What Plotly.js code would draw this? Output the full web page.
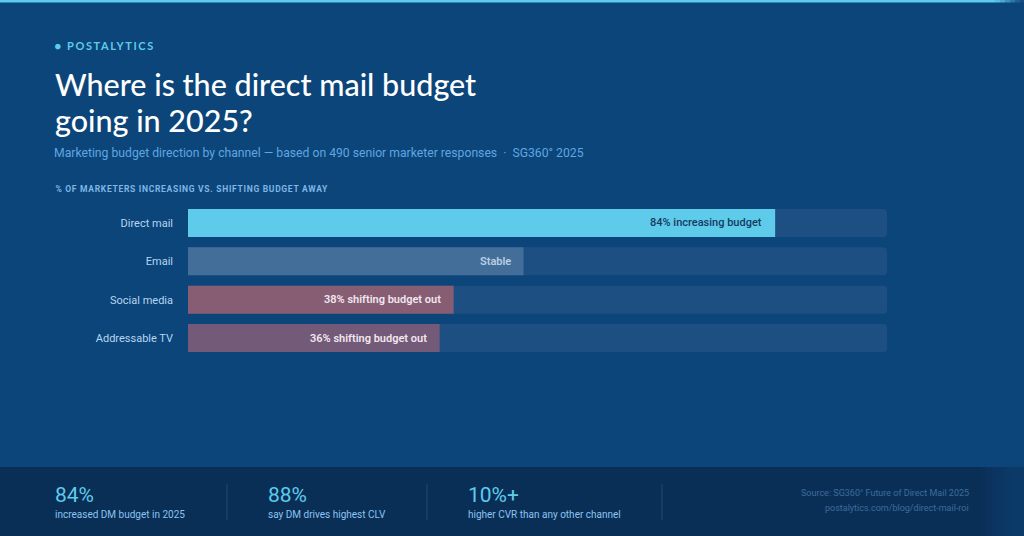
<!DOCTYPE html>
<html>
<head>
<meta charset="utf-8">
<script src="https://cdn.plot.ly/plotly-3.0.1.min.js"></script>
<style>
  html, body { margin: 0; padding: 0; background: #0c4579; }
  #chart { width: 1024px; height: 536px; }
</style>
</head>
<body>
<div id="chart"></div>
<script>
// ---- data ----
const channels = ["Direct mail", "Email", "Social media", "Addressable TV"];
const values = [84, 48, 38, 36];
const barLabels = ["84% increasing budget", "Stable", "38% shifting budget out", "36% shifting budget out"];
const trackMax = [100, 100, 100, 100];

const statValues = ["84%", "88%", "10%+"];
const statLabels = ["increased DM budget in 2025", "say DM drives highest CLV", "higher CVR than any other channel"];

// ---- styles ----
const W = 1024, H = 536;
const barColors = ["#5ecbeb", "#436e99", "#875d74", "#735a78"];
const labelColors = ["#163a5e", "#b9cfe4", "#f1e6ee", "#f1e6ee"];
const px = x => x / W;
const py = y => (H - y) / H;

const plotL = 188, plotR = 887, plotT = 203.8, plotB = 357.2;

const traces = [
  {
    type: "bar", orientation: "h",
    y: channels, x: trackMax,
    marker: { color: "#1e4f82", cornerradius: 4 },
    hoverinfo: "skip", showlegend: false
  },
  {
    type: "bar", orientation: "h",
    y: channels, x: values,
    marker: { color: barColors, cornerradius: 4 },
    hoverinfo: "skip", showlegend: false
  }
];

const annotations = [];
channels.forEach((c, i) => {
  annotations.push({
    xref: "x", yref: "y", x: values[i], y: c,
    text: barLabels[i], showarrow: false,
    xanchor: "right", yanchor: "middle", xshift: -11,
    font: { family: "Roboto", size: 11, color: labelColors[i], weight: i === 0 ? 500 : 600 }
  });
});

// header texts
annotations.push({
  xref: "paper", yref: "paper", x: px(53), y: py(45), xanchor: "left", yanchor: "middle", xshift: 10,
  text: "● POSTALYTICS", showarrow: false,
  font: { family: "Lato", size: 11, color: "#5ecbeb", weight: 700 }
});
annotations.push({
  xref: "paper", yref: "paper", x: px(53), y: py(84), xanchor: "left", yanchor: "middle",
  text: "Where is the direct mail budget", showarrow: false,
  font: { family: "Lato", size: 30.5, color: "#ffffff", weight: 500 }
});
annotations.push({
  xref: "paper", yref: "paper", x: px(53), y: py(120), xanchor: "left", yanchor: "middle",
  text: "going in 2025?", showarrow: false,
  font: { family: "Lato", size: 30.5, color: "#ffffff", weight: 500 }
});
annotations.push({
  xref: "paper", yref: "paper", x: px(52), y: py(153), xanchor: "left", yanchor: "middle",
  text: "Marketing budget direction by channel — based on 490 senior marketer responses  ·  SG360° 2025", showarrow: false,
  font: { family: "Roboto", size: 12.2, color: "#5fa6e2" }
});
annotations.push({
  xref: "paper", yref: "paper", x: px(54), y: py(189), xanchor: "left", yanchor: "middle", xshift: 17,
  text: "% OF MARKETERS INCREASING VS. SHIFTING BUDGET AWAY", showarrow: false,
  font: { family: "Roboto", size: 8.5, color: "#7fb6e6", weight: 700 }
});

// footer stats
const statX = [55, 268, 468];
statValues.forEach((v, i) => {
  annotations.push({
    xref: "paper", yref: "paper", x: px(statX[i] - 2), y: py(495), xanchor: "left", yanchor: "middle",
    text: v, showarrow: false,
    font: { family: "Roboto", size: 21, color: "#5ecbeb" }
  });
  annotations.push({
    xref: "paper", yref: "paper", x: px(statX[i] - 2), y: py(514), xanchor: "left", yanchor: "middle",
    text: statLabels[i], showarrow: false,
    font: { family: "Roboto", size: 10, color: "#8cc3ef" }
  });
});
annotations.push({
  xref: "paper", yref: "paper", x: px(971), y: py(493), xanchor: "right", yanchor: "middle",
  text: "Source: SG360° Future of Direct Mail 2025", showarrow: false,
  font: { family: "Roboto", size: 9, color: "#3e6b9c" }
});
annotations.push({
  xref: "paper", yref: "paper", x: px(971), y: py(508), xanchor: "right", yanchor: "middle",
  text: "postalytics.com/blog/direct-mail-roi", showarrow: false,
  font: { family: "Roboto", size: 9, color: "#3e6b9c" }
});

const shapes = [
  { type: "rect", xref: "paper", yref: "paper", x0: 0, x1: px(995), y0: py(0), y1: py(2.5), fillcolor: "#5ecbeb", line: { width: 0 }, layer: "below" },
  { type: "rect", xref: "paper", yref: "paper", x0: 0, x1: 1, y0: 0, y1: py(467), fillcolor: "#0a2f57", line: { width: 0 }, layer: "below" }
];
const fadeTop = ["#56bde2", "#4aa8d4", "#3c8fc0", "#2f76ab", "#215d95", "#164e86"];
const fadeFoot = ["#0a3059", "#0b325c", "#0b3460", "#0b3663", "#0c3866", "#0c3a68"];
for (let k = 0; k < 6; k++) {
  shapes.push({ type: "rect", xref: "paper", yref: "paper", x0: px(995 + k * 5), x1: k === 5 ? 1 : px(1000 + k * 5), y0: py(0), y1: py(2.5), fillcolor: fadeTop[k], line: { width: 0 }, layer: "below" });
  shapes.push({ type: "rect", xref: "paper", yref: "paper", x0: px(980 + k * 6), x1: k === 5 ? 1 : px(986 + k * 6), y0: 0, y1: py(467), fillcolor: fadeFoot[k], line: { width: 0 }, layer: "below" });
}
[227, 427, 662].forEach(x => {
  shapes.push({ type: "line", xref: "paper", yref: "paper", x0: px(x), x1: px(x), y0: py(484), y1: py(520), line: { color: "#1d4a79", width: 1 }, layer: "below" });
});

const layout = {
  width: W, height: H,
  margin: { l: 0, r: 0, t: 0, b: 0, pad: 0 },
  paper_bgcolor: "#0c4579", plot_bgcolor: "rgba(0,0,0,0)",
  barmode: "overlay", bargap: 0.27,
  showlegend: false,
  xaxis: {
    domain: [px(plotL), px(plotR)], range: [0, 100],
    showgrid: false, zeroline: false, showticklabels: false, fixedrange: true
  },
  yaxis: {
    domain: [py(plotB), py(plotT)],
    autorange: "reversed", type: "category",
    showgrid: false, zeroline: false, ticks: "", ticklabelstandoff: 14,
    tickfont: { family: "Roboto", size: 11, color: "#b6d6f2" }, fixedrange: true
  },
  annotations: annotations,
  shapes: shapes
};

Plotly.newPlot("chart", traces, layout, { staticPlot: true, displayModeBar: false }).then(() => {
  document.querySelectorAll("#chart g.annotation text").forEach(t => {
    const s = t.textContent;
    if (s.indexOf("POSTALYTICS") >= 0) t.style.letterSpacing = "1.6px";
    if (s.indexOf("% OF MARKETERS") === 0) t.style.letterSpacing = "0.7px";
  });
});
</script>
</body>
</html>
